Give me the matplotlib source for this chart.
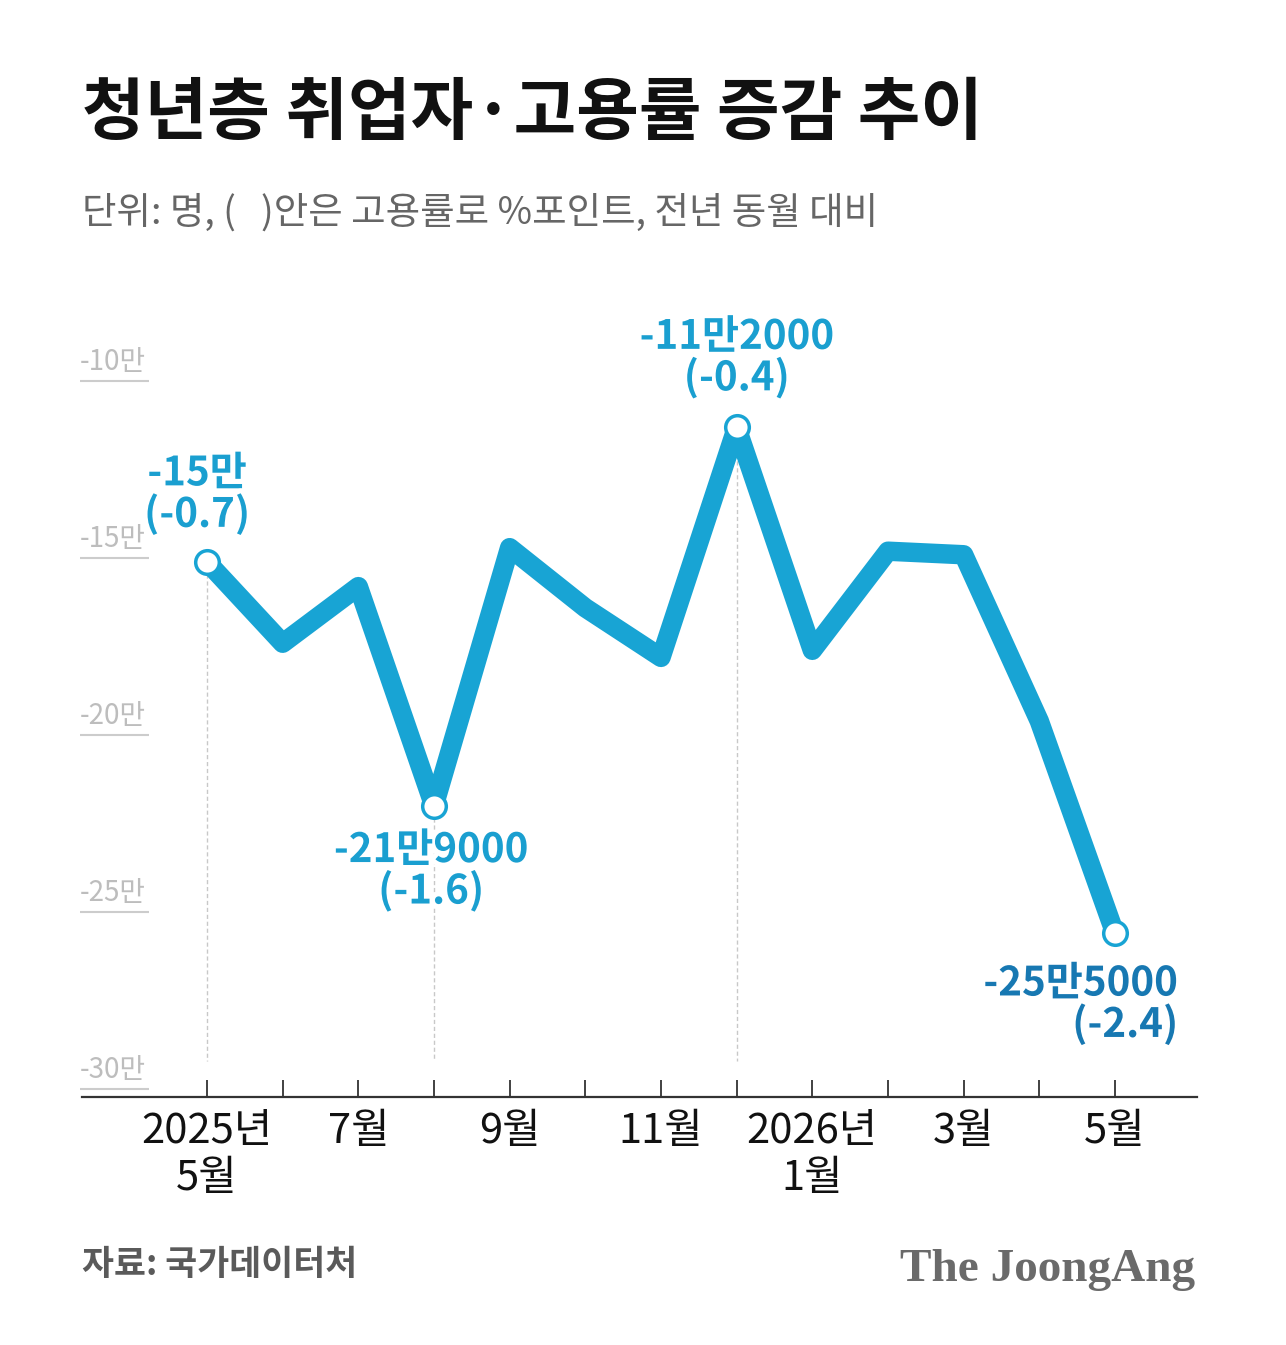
import matplotlib
matplotlib.use("Agg")
import matplotlib.pyplot as plt
import matplotlib.patheffects as pe

plt.rcParams['font.family'] = ['Noto Sans CJK KR', 'DejaVu Sans']

# ---------------- data ----------------
months = ["2025-05", "2025-06", "2025-07", "2025-08", "2025-09", "2025-10", "2025-11",
          "2025-12", "2026-01", "2026-02", "2026-03", "2026-04", "2026-05"]
tick_labels = ["2025년\n5월", "", "7월", "", "9월", "", "11월", "", "2026년\n1월", "", "3월", "", "5월"]
# change in youth employment, unit: 만명 (10,000 persons), year-on-year
employed_change = [-15.0, -17.3, -15.7, -21.9, -14.6, -16.3, -17.7, -11.2, -17.5, -14.7, -14.8, -19.5, -25.5]
# change in employment rate, %p, for the annotated months
annotated_idx = [0, 3, 7, 12]
rate_change = [-0.7, -1.6, -0.4, -2.4]
y_ticks = [-10, -15, -20, -25, -30]
y_tick_labels = ["-10만", "-15만", "-20만", "-25만", "-30만"]

title = "청년층 취업자·고용률 증감 추이"
subtitle = "단위: 명, (   )안은 고용률로 %포인트, 전년 동월 대비"
source = "자료: 국가데이터처"
brand = "The JoongAng"

# ---------------- style ----------------
W, H, DPI = 1286, 1345, 100
LINE_C = "#18a4d4"
LABEL_C = "#1a9fd0"
LAST_C = "#1778b2"
px = 0.72  # pixels -> points at dpi 100

fig = plt.figure(figsize=(W / DPI, H / DPI), dpi=DPI)
fig.patch.set_facecolor("white")

left, right, bottom, top = 82, 1197, 1097, 290
ax = fig.add_axes([left / W, 1 - bottom / H, (right - left) / W, (bottom - top) / H])
ax.set_xlim(-1.652, 13.084)
ax.set_ylim(-30.12, -7.32)
for s in ["left", "right", "top"]:
    ax.spines[s].set_visible(False)
ax.spines["bottom"].set_color("#333333")
ax.spines["bottom"].set_linewidth(1.6)
ax.set_yticks([])

x = list(range(len(months)))
ax.set_xticks(x)
ax.set_xticklabels(tick_labels, fontsize=30, color="#111111", linespacing=1.2)
ax.tick_params(axis="x", direction="in", length=12, width=1.3, color="#333333", pad=10)

# y tick labels with short underline
for v, lab in zip(y_ticks, y_tick_labels):
    ax.plot([-1.68, -0.77], [v + 0.12, v + 0.12], color="#cccccc", lw=1.5, clip_on=False,
            solid_capstyle="butt")
    ax.text(-1.68, v + 0.22, lab, fontsize=20, color="#bdbdbd", ha="left", va="bottom")

# guide lines for annotated points (except the last)
for i in annotated_idx[:-1]:
    v = employed_change[i]
    ax.plot([i, i], [v - 0.35, -29.1], color="#c8c8c8", lw=1.0, ls=(0, (3, 2)), zorder=1)

ax.plot(x, employed_change, color=LINE_C, lw=14, solid_joinstyle="round",
        solid_capstyle="round", zorder=3)
ax.plot([x[i] for i in annotated_idx], [employed_change[i] for i in annotated_idx],
        ls="none", marker="o", markersize=17, markerfacecolor="white",
        markeredgecolor=LINE_C, markeredgewidth=2.5, zorder=4)


def fmt_people(v):
    n = int(round(abs(v) * 10000))
    man, rest = divmod(n, 10000)
    s = f"-{man}만"
    if rest:
        s += f"{rest}"
    return s


offsets = [(-10, 26, "center", "bottom"), (-3, -24, "center", "top"),
           (0, 28, "center", "bottom"), (63, -30, "right", "top")]
colors = [LABEL_C, LABEL_C, LABEL_C, LAST_C]
for i, r, (dx, dy, ha, va), c in zip(annotated_idx, rate_change, offsets, colors):
    txt = f"{fmt_people(employed_change[i])}\n({r})"
    ax.annotate(txt, xy=(i, employed_change[i]), xytext=(dx * px, dy * px),
                textcoords="offset points", ha=ha, va=va, multialignment=ha,
                fontsize=29, fontweight="bold", color=c, linespacing=1.0, zorder=5,
                path_effects=[pe.withStroke(linewidth=7, foreground="white")])

# titles
fig.text(82 / W, 1 - 115 / H, title, fontsize=49, fontweight="black", color="#111111",
         ha="left", va="center")
fig.text(82 / W, 1 - 213 / H, subtitle, fontsize=27, color="#666666", ha="left", va="center")
fig.text(82 / W, 1 - 1265 / H, source, fontsize=25, fontweight="bold", color="#5a5a5a",
         ha="left", va="center")
fig.text(1195 / W, 1 - 1270 / H, brand, fontsize=34, fontweight="bold", color="#6a6a6a",
         ha="right", va="center", family=["Liberation Serif", "DejaVu Serif"])

fig.savefig("out.png", dpi=DPI, facecolor="white")
